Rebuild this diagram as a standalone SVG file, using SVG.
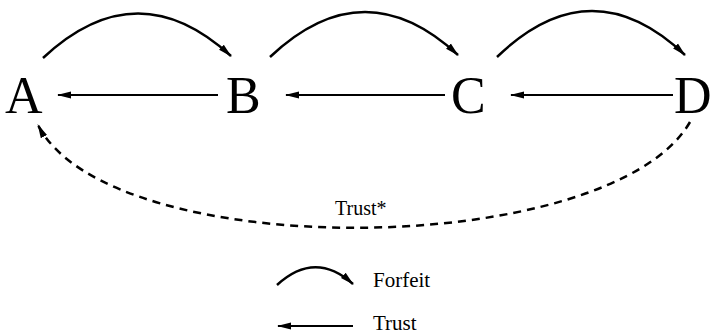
<svg xmlns="http://www.w3.org/2000/svg" width="722" height="335" viewBox="0 0 722 335">
<style>
.node{font-family:"Liberation Serif","Times New Roman",serif;font-size:52px;fill:#000}
.lbl{font-family:"Liberation Serif","Times New Roman",serif;font-size:20px;fill:#000}
.leg{font-family:"Liberation Serif","Times New Roman",serif;font-size:21px;fill:#000}
.edge{fill:none;stroke:#000;stroke-width:2.5}
.trust{fill:none;stroke:#000;stroke-width:2}
.dash{fill:none;stroke:#000;stroke-width:2.5;stroke-dasharray:8 6}
</style>
<defs>
<marker id="ah" viewBox="0 0 14 10" refX="13" refY="5" markerWidth="14" markerHeight="10" markerUnits="userSpaceOnUse" orient="auto">
<path d="M0,1.5 L14,5 L0,8.5 Z" fill="#000"/>
</marker>
</defs>
<rect width="722" height="335" fill="#fff"/>
<g id="A"><text class="node" x="5" y="113">A</text></g>
<g id="B"><text class="node" x="226" y="113">B</text></g>
<g id="C"><text class="node" x="451" y="113">C</text></g>
<g id="D"><text class="node" x="674" y="113">D</text></g>
<g id="connectors">
<path class="edge" d="M43,58 Q137,-30 231,56" marker-end="url(#ah)"/>
<path class="edge" d="M270,57 Q364,-32 458,55" marker-end="url(#ah)"/>
<path class="edge" d="M497,57 Q591,-34 685,55" marker-end="url(#ah)"/>
<path class="trust" d="M218,95 L58,95" marker-end="url(#ah)"/>
<path class="trust" d="M445,95 L286,95" marker-end="url(#ah)"/>
<path class="trust" d="M673,95 L511,95" marker-end="url(#ah)"/>
<path class="dash" d="M690,122 C610,260 110,265 38,125" marker-end="url(#ah)"/>
<text class="lbl" x="335" y="215">Trust*</text>
</g>
<g id="legend">
<path class="edge" d="M277,285 Q315,250 353,284" marker-end="url(#ah)"/>
<text class="leg" x="373" y="287">Forfeit</text>
<path class="trust" d="M353,326 L278,326" marker-end="url(#ah)"/>
<text class="leg" x="373" y="330">Trust</text>
</g>
</svg>
